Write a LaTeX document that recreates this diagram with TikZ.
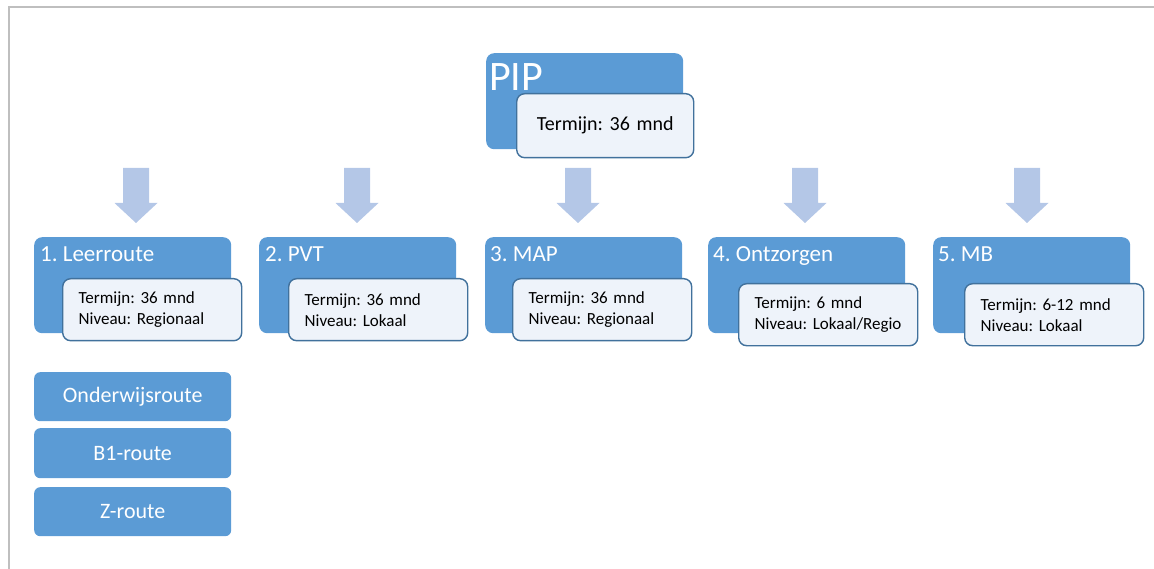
\documentclass[tikz,border=0pt]{standalone}
\usepackage{fontspec}
\setmainfont{Carlito}
\AtBeginDocument{\frenchspacing}
\definecolor{boxblue}{HTML}{5B9BD5}
\definecolor{edgeblue}{HTML}{41719C}
\definecolor{paleblue}{HTML}{EEF3FA}
\definecolor{arrowblue}{HTML}{B4C7E7}
\definecolor{framegray}{HTML}{BFBFBF}
\begin{document}
\begin{tikzpicture}[x=1pt, y=-1pt,
  bluebox/.style={fill=boxblue, rounded corners=8pt, anchor=north west, minimum width=197pt, minimum height=96pt},
  infobox/.style={fill=paleblue, draw=edgeblue, line width=1.4pt, rounded corners=8pt, anchor=north west, align=left, text width=147pt, inner xsep=16pt, minimum height=62pt, font=\fontsize{17}{21}\selectfont},
  title/.style={anchor=base west, inner sep=0pt, text=white, font=\fontsize{23}{23}\selectfont},
  routebox/.style={fill=boxblue, rounded corners=6pt, anchor=north west, minimum width=197pt, minimum height=49pt, text=white, font=\fontsize{22}{22}\selectfont}]
\useasboundingbox (0,0) rectangle (1154,569);
\draw [framegray, line width=2pt] (9,569) -- (9,7) -- (1154,7);
% top
\node [bluebox] (pip) at (486,53) {};
\node [title, font=\fontsize{42}{42}\selectfont] (piptitle) at (489,91) {PIP};
\node [infobox, align=center, text width=145pt, minimum height=64pt, font=\fontsize{20}{24}\selectfont] (piptermijn) at (516,93) {Termijn: 36 mnd};
\foreach \ax in {136,357,578,805,1027}
  \fill [arrowblue] (\ax-13,168) -- (\ax+13,168) -- (\ax+13,203) -- (\ax+21.5,203)
    -- (\ax,223) -- (\ax-21.5,203) -- (\ax-13,203) -- cycle;
% routes
\node [bluebox] (leer) at (34,237) {};
\node [title] (leertitle) at (40,262) {1. Leerroute};
\node [infobox] (leerinfo) at (62,278) {Termijn: 36 mnd\\Niveau: Regionaal};
\node [bluebox] (pvt) at (259,237) {};
\node [title] (pvttitle) at (265,262) {2. PVT};
\node [infobox] (pvtinfo) at (288,278) {Termijn: 36 mnd\\Niveau: Lokaal};
\node [bluebox] (map) at (485,237) {};
\node [title] (maptitle) at (490,262) {3. MAP};
\node [infobox] (mapinfo) at (512,278) {Termijn: 36 mnd\\Niveau: Regionaal};
\node [bluebox] (ontz) at (708,237) {};
\node [title] (ontztitle) at (713,262) {4. Ontzorgen};
\node [infobox] (ontzinfo) at (738,283) {Termijn: 6 mnd\\Niveau: Lokaal/Regio};
\node [bluebox] (mb) at (933,237) {};
\node [title] (mbtitle) at (938,262) {5. MB};
\node [infobox] (mbinfo) at (964,283) {Termijn: 6-12 mnd\\Niveau: Lokaal};
% sub routes
\node [routebox] (onderwijs) at (34,372) {Onderwijsroute};
\node [routebox, minimum height=50pt] (bone) at (34,428) {B1-route};
\node [routebox] (zroute) at (34,487) {Z-route};
\end{tikzpicture}
\end{document}
